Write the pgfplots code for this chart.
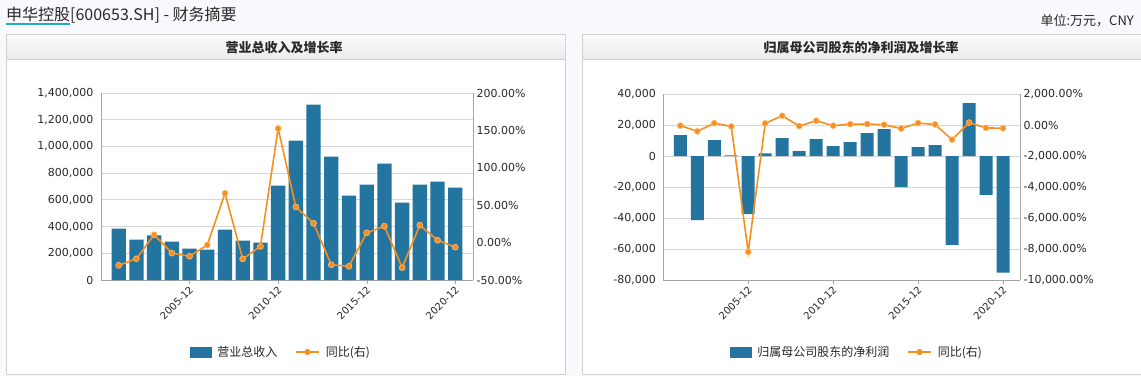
\documentclass[border=0pt]{standalone}
\usepackage{fontspec}
\setmainfont{DejaVu Sans}
\newfontfamily\cjk{Noto Sans CJK SC}
\usepackage{pgfplots}
\usepackage{pgfplotstable}
\pgfplotsset{compat=1.18}

\definecolor{barblue}{RGB}{35,117,160}
\definecolor{lineorange}{RGB}{247,143,30}
\definecolor{gridgray}{RGB}{214,214,214}
\definecolor{axisgray}{RGB}{165,165,165}
\definecolor{txt}{RGB}{40,40,40}
\definecolor{pagebg}{RGB}{248,249,252}
\definecolor{panelborder}{RGB}{208,208,208}
\definecolor{headtop}{RGB}{251,251,251}
\definecolor{headbot}{RGB}{235,235,235}
\definecolor{teal}{RGB}{40,170,190}

\pgfplotstableread{
year rev g
2001 385000 -30.4
2002 302000 -21.6
2003 334000 10.6
2004 287000 -14.0
2005 234600 -18.3
2006 227000 -3.2
2007 376800 66.0
2008 294500 -21.8
2009 279500 -5.1
2010 706000 152.6
2011 1043000 47.7
2012 1312600 25.8
2013 923000 -29.7
2014 631000 -31.6
2015 713700 13.1
2016 871000 22.0
2017 579000 -33.5
2018 713700 23.3
2019 736000 3.1
2020 691000 -6.1
}\revtable

\pgfplotstableread{
year np g
2001 13500 -39
2002 -41200 -404
2003 10300 120
2004 460 -90
2005 -37400 -8170
2006 1800 110
2007 11600 600
2008 3200 -65
2009 10950 280
2010 6400 -40
2011 9000 62
2012 14800 66
2013 17400 22
2014 -20000 -225
2015 5800 130
2016 7100 42
2017 -57100 -940
2018 34100 158
2019 -24900 -182
2020 -75100 -205
}\nptable

\pgfplotsset{
  base/.style={
    anchor=south west, scale only axis,
    xmin=2000, xmax=2021,
    scaled y ticks=false,
    tick label style={font=\fontsize{11}{13}\selectfont, text=txt},
    ytick style={draw=none},
  },
  leftax/.style={
    base,
    axis y line*=left, axis x line*=bottom,
    axis line style={-, draw=axisgray},
    ymajorgrids, grid style={gridgray, line width=0.8pt},
    yticklabel={\pgfmathprintnumber[fixed,1000 sep={,},assume math mode=true]{\tick}},
    xtick={2005,2010,2015,2020},
    xticklabels={2005-12,2010-12,2015-12,2020-12},
    xticklabel style={rotate=45, anchor=east, font=\fontsize{10}{12}\selectfont, xshift=2pt, yshift=-4pt},
    x tick style={draw=axisgray}, tick align=outside, major tick length=4pt,
  },
  rightax/.style={
    base,
    axis y line*=right, axis x line=none, xtick=\empty,
    axis line style={-, draw=axisgray},
    yticklabel={\pgfmathprintnumber[fixed,fixed zerofill,precision=2,1000 sep={,},assume math mode=true]{\tick}\%},
    legend style={draw=none, fill=none, legend columns=2,
      font=\cjk\fontsize{12}{14}\selectfont, text=txt,
      /tikz/every even column/.append style={column sep=18pt},
      /tikz/every odd column/.append style={column sep=6pt},
      nodes={inner sep=0pt}, anchor=center},
  },
  barleg/.style={legend image code/.code={\fill[barblue] (0pt,-5pt) rectangle (21pt,5pt);}},
  lineleg/.style={legend image code/.code={\draw[lineorange, line width=1.6pt] (0pt,0pt) -- (23pt,0pt); \fill[lineorange] (11.5pt,0pt) circle (2.2pt);}},
  lineplot/.style={lineorange, line width=1.6pt, mark=*, mark size=3pt,
    mark options={fill=lineorange, draw=lineorange!60!white, line width=0.6pt}},
}

\begin{document}
\begin{tikzpicture}
\fill[pagebg] (0pt,0pt) rectangle (1141pt,-376pt);
\useasboundingbox (0pt,0pt) rectangle (1141pt,-376pt);

% top title
\node[anchor=west, inner sep=0pt, text=txt, font=\cjk\fontsize{16}{18}\selectfont] at (6pt,-15.5pt) {申华控股[600653.SH] - 财务摘要};
\draw[teal, line width=1.2pt] (6pt,-24pt) -- (70pt,-24pt);
\node[anchor=east, inner sep=0pt, text=txt, font=\cjk\fontsize{13}{15}\selectfont] at (1134pt,-20.5pt) {单位:万元，CNY};

% panels
\filldraw[fill=white, draw=panelborder] (6.5pt,-34.5pt) rectangle (565.5pt,-374.5pt);
\shade[top color=headtop, bottom color=headbot] (7pt,-35pt) rectangle (565pt,-59pt);
\draw[panelborder] (6.5pt,-59.3pt) -- (565.5pt,-59.3pt);
\filldraw[fill=white, draw=panelborder] (582.5pt,-34.5pt) rectangle (1150pt,-374.5pt);
\shade[top color=headtop, bottom color=headbot] (583pt,-35pt) rectangle (1141pt,-59pt);
\draw[panelborder] (582.5pt,-59.3pt) -- (1141pt,-59.3pt);

\node[inner sep=0pt, text=txt, font=\cjk\bfseries\fontsize{13}{15}\selectfont] at (284pt,-48pt) {营业总收入及增长率};
\node[inner sep=0pt, text=txt, font=\cjk\bfseries\fontsize{13}{15}\selectfont] at (861pt,-48pt) {归属母公司股东的净利润及增长率};

% left panel
\begin{axis}[leftax, at={(101pt,-280pt)}, width=372pt, height=187pt,
  ymin=0, ymax=1400000, ytick={0,200000,...,1400000}]
\addplot[ybar, bar width=14.3pt, fill=barblue, draw=none] table[x=year,y=rev]{\revtable};
\end{axis}
\begin{axis}[rightax, at={(101pt,-280pt)}, width=372pt, height=187pt,
  ymin=-50, ymax=200, ytick={-50,0,...,200},
  legend style={at={(0.481,-0.385)}}]
\addlegendimage{barleg}
\addlegendentry{营业总收入}
\addplot[lineplot, lineleg] table[x=year,y=g]{\revtable};
\addlegendentry{同比(右)}
\end{axis}

% right panel
\begin{axis}[leftax, at={(663.3pt,-280.3pt)}, width=356.7pt, height=186.3pt,
  ymin=-80000, ymax=40000, ytick={-80000,-60000,...,40000}]
\addplot[ybar, bar width=13pt, fill=barblue, draw=none] table[x=year,y=np]{\nptable};
\end{axis}
\begin{axis}[rightax, at={(663.3pt,-280.3pt)}, width=356.7pt, height=186.3pt,
  ymin=-10000, ymax=2000, ytick={-10000,-8000,...,2000},
  legend style={at={(0.540,-0.385)}}]
\addlegendimage{barleg}
\addlegendentry{归属母公司股东的净利润}
\addplot[lineplot, lineleg] table[x=year,y=g]{\nptable};
\addlegendentry{同比(右)}
\end{axis}
\end{tikzpicture}
\end{document}
